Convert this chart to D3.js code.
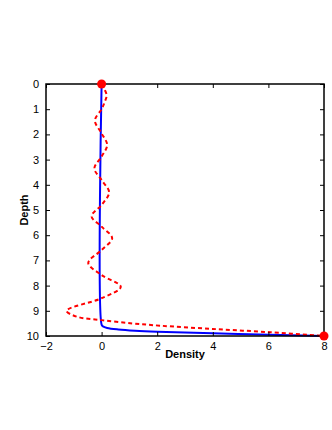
<!DOCTYPE html>
<html><head><meta charset="utf-8">
<script src="https://cdn.jsdelivr.net/npm/d3@7"></script>
<style>html,body{margin:0;padding:0;background:#fff;}svg{display:block;}</style>
</head><body>
<svg id="c" width="332" height="430"></svg>
<script>
// Data (depth, density)
const redDepth   = [0, 0.2, 0.45, 0.75, 1.0, 1.45, 1.96, 2.42, 2.88, 3.35, 3.81, 4.3, 4.8, 5.25, 5.66, 6.12, 6.59, 7.1, 7.58, 8.05, 8.5, 9.0, 9.23, 9.37, 9.5, 9.59, 9.72, 9.85, 10];
const redDensity = [0, 0.1, 0.18, 0.1, 0, -0.24, 0, 0.2, 0, -0.26, 0, 0.27, 0, -0.36, 0, 0.38, 0, -0.48, 0, 0.69, 0, -1.26, -0.9, 0, 1.1, 2.1, 4.0, 6.06, 8];
const blueDepth   = [0, 9.55, 9.62, 9.68, 9.74, 9.79, 9.83, 9.89, 9.95, 10];
const blueDensity = [0, 0, 0.05, 0.2, 0.6, 1.2, 2.0, 4.0, 6.06, 8];
const markerDepth = [0, 10];
const markerDensity = [0, 8];
const xTicks = [-2, 0, 2, 4, 6, 8];
const yTicks = [0, 1, 2, 3, 4, 5, 6, 7, 8, 9, 10];

const svg = d3.select('#c');
const L = 46, R = 324, T = 84, B = 336;
const x = d3.scaleLinear().domain([-2, 8]).range([L, R]);
const y = d3.scaleLinear().domain([0, 10]).range([T, B]);
const font = 'Liberation Sans, Arial, Helvetica, sans-serif';

// curves
const red = redDepth.map((d, i) => [redDensity[i], d]);
const blue = blueDepth.map((d, i) => [blueDensity[i], d]);
const line = d3.line().x(d => x(d[0])).y(d => y(d[1])).curve(d3.curveCatmullRom.alpha(0.5));

svg.append('path').attr('d', line(blue)).attr('fill', 'none')
  .attr('stroke', '#0000ff').attr('stroke-width', 2);
svg.append('path').attr('d', line(red)).attr('fill', 'none')
  .attr('stroke', '#ff0000').attr('stroke-width', 2).attr('stroke-dasharray', '4,3');

// box
svg.append('rect').attr('x', L).attr('y', T).attr('width', R - L).attr('height', B - T)
  .attr('fill', 'none').attr('stroke', '#000').attr('stroke-width', 1.5);

// axes (ticks inward)
const tl = 4;
const gx = svg.append('g').attr('transform', `translate(0,${B})`)
  .call(d3.axisBottom(x).tickValues(xTicks).tickSizeInner(-tl).tickSizeOuter(0).tickPadding(tl + 2)
    .tickFormat(d => d < 0 ? '\u2212' + Math.abs(d) : d));
gx.select('.domain').remove();
const gxt = svg.append('g').attr('transform', `translate(0,${T})`)
  .call(d3.axisTop(x).tickValues(xTicks).tickSizeInner(-tl).tickSizeOuter(0).tickFormat(''));
gxt.select('.domain').remove();
const gy = svg.append('g').attr('transform', `translate(${L},0)`)
  .call(d3.axisLeft(y).tickValues(yTicks).tickSizeInner(-tl).tickSizeOuter(0).tickPadding(tl + 3));
gy.select('.domain').remove();
const gyr = svg.append('g').attr('transform', `translate(${R},0)`)
  .call(d3.axisRight(y).tickValues(yTicks).tickSizeInner(-tl).tickSizeOuter(0).tickFormat(''));
gyr.select('.domain').remove();
svg.selectAll('.tick line').attr('stroke', '#000').attr('stroke-width', 1);
svg.selectAll('.tick text').attr('font-family', font).attr('font-size', 11).attr('fill', '#000');

// markers
svg.selectAll('circle.m').data(markerDepth).enter().append('circle')
  .attr('cx', (d, i) => x(markerDensity[i])).attr('cy', d => y(d)).attr('r', 4.5)
  .attr('fill', '#ff0000');

// labels
svg.append('text').attr('x', 185).attr('y', 358).attr('text-anchor', 'middle')
  .attr('font-family', font).attr('font-size', 11).attr('font-weight', 'bold').text('Density');
svg.append('text').attr('transform', 'translate(28,210) rotate(-90)').attr('text-anchor', 'middle')
  .attr('font-family', font).attr('font-size', 11).attr('font-weight', 'bold').text('Depth');
</script>
</body></html>
